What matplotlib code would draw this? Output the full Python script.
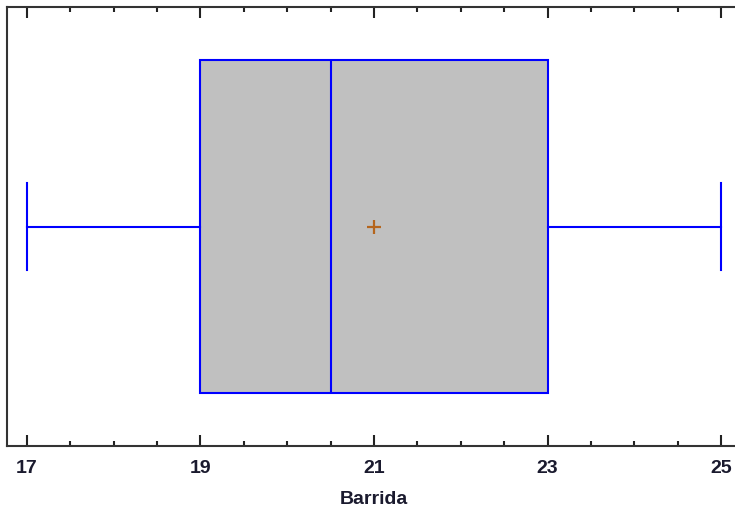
import matplotlib
matplotlib.use("Agg")
import matplotlib.pyplot as plt
import numpy as np

# box plot summary for "Barrida"
label = "Barrida"
whislo = 17.0
q1 = 19.0
median = 20.5
q3 = 23.0
whishi = 25.0
mean = 21.0
major_ticks = [17, 19, 21, 23, 25]

plt.rcParams["font.family"] = ["Liberation Sans", "DejaVu Sans"]

fig = plt.figure(figsize=(7.35, 5.16), dpi=100)
ax = fig.add_axes([7 / 735, 1 - 446 / 516, 734 / 735, 439 / 516])

stats = [dict(whislo=whislo, q1=q1, med=median, q3=q3, whishi=whishi,
              mean=mean, fliers=[], label=label)]
blue = "#0000ff"
ax.bxp(stats, positions=[0.5], widths=0.76, capwidths=0.196,
       orientation="horizontal", patch_artist=True, showmeans=True,
       boxprops=dict(facecolor="#c0c0c0", edgecolor=blue, linewidth=1.5),
       whiskerprops=dict(color=blue, linewidth=1.5),
       capprops=dict(color=blue, linewidth=1.5),
       medianprops=dict(color=blue, linewidth=1.5),
       meanprops=dict(marker="+", markeredgecolor="#b5651d",
                      markersize=10, markeredgewidth=1.6))

ax.set_xlim(16.77, 25.23)
ax.set_ylim(0, 1)
ax.set_yticks([])
ax.set_xticks(major_ticks)
ax.set_xticks(np.arange(17, 25.01, 0.5), minor=True)
ax.tick_params(axis="x", which="both", direction="in", top=True, bottom=True,
               color="#222222", width=1.5, labelsize=14, pad=10)
ax.tick_params(axis="x", which="major", length=8)
ax.tick_params(axis="x", which="minor", length=3.5)
for lbl in ax.get_xticklabels():
    lbl.set_fontweight("bold")
    lbl.set_color("#1a1a2e")
for sp in ax.spines.values():
    sp.set_linewidth(1.5)
    sp.set_color("#333333")

ax.set_xlabel(label, fontsize=14, fontweight="bold", color="#1a1a2e", labelpad=10)

fig.savefig("out.png", dpi=100)
